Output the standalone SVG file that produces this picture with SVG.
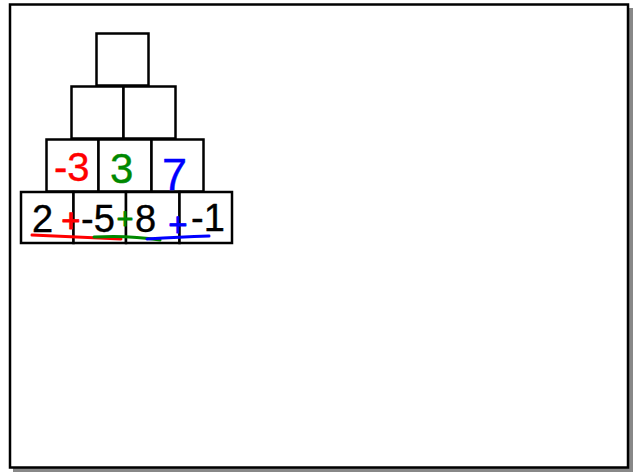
<svg xmlns="http://www.w3.org/2000/svg" width="637" height="472" viewBox="0 0 637 472">
<style>
.box{fill:#fff;stroke:#000;stroke-width:2.5}
.num{font-family:"Liberation Sans",Arial,sans-serif;font-size:38px;stroke-width:0.4;stroke-linejoin:round}
.k{fill:#000;stroke:#000}
.r{fill:#f00;stroke:#f00}
.g{fill:#080;stroke:#080}
.b{fill:#00f;stroke:#00f}
.plus{font-size:33px;text-anchor:middle;stroke-width:0.8}
.ul{fill:none;stroke-width:3;stroke-linecap:round}
</style>
<rect x="13" y="8" width="620" height="464" fill="#888"/>
<rect x="10" y="4.5" width="618" height="463" fill="#fff" stroke="#000" stroke-width="2.5"/>
<g id="top"><rect class="box" x="96.5" y="33.5" width="52" height="52"/></g>
<g id="r2c1"><rect class="box" x="71.5" y="86.5" width="52" height="52"/></g>
<g id="r2c2"><rect class="box" x="123.5" y="86.5" width="52" height="52"/></g>
<g id="r3c1"><rect class="box" x="46.5" y="139.5" width="52" height="52"/><text class="num r" x="54" y="181" style="font-size:40px">-3</text></g>
<g id="r3c2"><rect class="box" x="98.5" y="139.5" width="53" height="52"/><text class="num g" x="110" y="183" style="font-size:42px">3</text></g>
<g id="r3c3"><rect class="box" x="151.5" y="139.5" width="52" height="52"/></g>
<g id="r4c1"><rect class="box" x="21" y="192" width="52.5" height="51"/></g>
<g id="r4c2"><rect class="box" x="73.5" y="192" width="52.5" height="51"/></g>
<g id="r4c3"><rect class="box" x="126" y="192" width="53.5" height="51"/></g>
<g id="r4c4"><rect class="box" x="179.5" y="192" width="52.5" height="51"/></g>
<g id="labels">
<text class="num b" x="162" y="190" style="font-size:45px">7</text>
<text class="num k" x="32" y="232">2</text>
<text class="num k" x="81" y="232">-5</text>
<text class="num k" x="135" y="232">8</text>
<text class="num k" x="191" y="231">-1</text>
<text class="num r plus" x="71" y="232">+</text>
<text class="num g plus" x="125" y="229" style="font-size:29px">+</text>
<text class="num b plus" x="178" y="236">+</text>
</g>
<g id="connectors">
<path class="ul" stroke="#f00" d="M32 235 Q75 237 121 239"/>
<path class="ul" stroke="#080" d="M94 237 Q128 235 160 240"/>
<path class="ul" stroke="#00f" d="M147 239 Q180 237 209 236"/>
</g>
</svg>
